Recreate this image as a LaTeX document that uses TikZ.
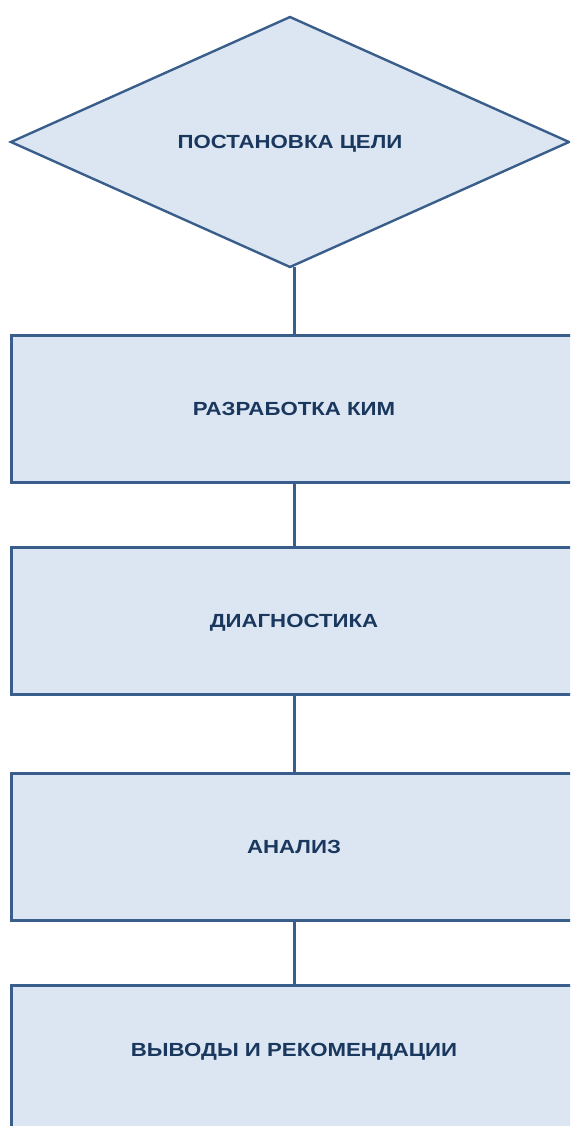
\documentclass[tikz,border=0pt]{standalone}
\usepackage{fontspec}
\setmainfont{Liberation Sans}
\newfontfamily\stagefont[FakeStretch=1.17]{Liberation Sans}
\usepackage{xcolor}
\usepackage{tikz}
\usetikzlibrary{positioning, shapes.geometric}
\definecolor{stagefill}{RGB}{220,230,242}
\definecolor{stageline}{RGB}{58,94,139}
\definecolor{stagetext}{RGB}{26,55,94}

\begin{document}
\begin{tikzpicture}[
  x=1pt, y=-1pt,
  every node/.style={font=\stagefont\fontsize{19}{21}\selectfont\bfseries, text=stagetext},
  goal/.style={
    draw=stageline, fill=stagefill, line width=2.4pt,
    diamond, shape aspect=2.23, inner sep=0pt, outer sep=0pt,
    minimum width=558pt, minimum height=250pt,
    text height=13.5pt, text depth=0pt
  },
  stagebox/.style={
    draw=stageline, fill=stagefill, line width=3pt, outer sep=0pt,
    minimum width=566pt, minimum height=147pt,
    text height=13.5pt, text depth=0pt
  },
  link/.style={draw=stageline, line width=3pt},
]
\useasboundingbox (0,0) rectangle (570,1126);
\clip (0,0) rectangle (570,1126);

% Goal
\node[goal] (goal) at (290,142) {ПОСТАНОВКА ЦЕЛИ};

% Stages
\node[stagebox] (kim) at (294,408.5) {РАЗРАБОТКА КИМ};
\node[stagebox, below=65pt of kim] (diag) {ДИАГНОСТИКА};
\node[stagebox, below=79pt of diag] (anal) {АНАЛИЗ};
\node[stagebox, below=65pt of anal, text depth=18pt] (concl) {ВЫВОДЫ И РЕКОМЕНДАЦИИ};

% Links
\draw[link] (kim.north) -- (kim.north |- goal.south);
\draw[link] (kim.south) -- (diag.north);
\draw[link] (diag.south) -- (anal.north);
\draw[link] (anal.south) -- (concl.north);

\end{tikzpicture}
\end{document}
